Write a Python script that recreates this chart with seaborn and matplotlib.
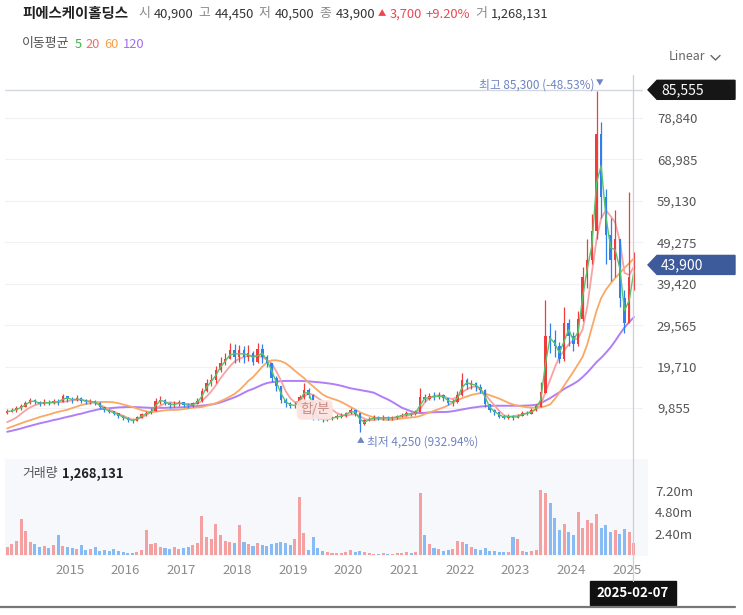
import matplotlib
matplotlib.use('Agg')
import matplotlib.pyplot as plt
import matplotlib.dates as mdates
from matplotlib.patches import Polygon, Rectangle
from matplotlib.lines import Line2D
import numpy as np
import pandas as pd
import seaborn as sns

# monthly candles, Nov 2013 .. Feb 2025
months = pd.date_range('2013-11-01', '2025-02-01', freq='MS') + pd.Timedelta(days=14)
first_open = 8600
close = [9000, 9300, 9800, 10200, 11000, 11800, 11200, 10800, 11300, 11000, 11500, 11200,
         12600, 12000, 11700, 12200, 11600, 11300, 11500, 11000, 10000, 9300, 9000, 8500,
         8000, 7500, 7000, 6800, 7600, 8300, 8600, 9200, 11500, 11800, 11000, 10500,
         10800, 11200, 10600, 10300, 10900, 11500, 13800, 15800, 16500, 18800, 20500, 21500,
         23500, 22000, 23500, 22000, 23000, 20800, 23800, 22000, 20500, 17000, 15000, 11800,
         11000, 10300, 10600, 12500, 14200, 13000, 7500, 7300, 7000, 7200, 7600, 7800,
         8000, 8600, 9300, 8500, 6000, 6900, 7300, 7600, 7400, 7700, 7400, 7600,
         7900, 8200, 8600, 8400, 8800, 12300, 12000, 12700, 12400, 12900, 12200, 11000,
         11400, 13000, 16500, 15300, 15800, 14800, 14200, 10800, 9300, 8800, 7800, 7600,
         8000, 7500, 8000, 8700, 8500, 9300, 10200, 13500, 27000, 26000, 24500, 21500,
         30000, 27000, 25000, 31000, 41000, 45000, 52000, 75000, 60000, 51000, 45000, 50000,
         36000, 30000, 41000, 43900]
high = [9700, 9800, 10300, 10800, 11600, 12300, 12000, 11600, 11900, 11700, 12100, 12000,
        13200, 12800, 12400, 12900, 12400, 11900, 12000, 11800, 11200, 10200, 9600, 9200,
        8700, 8200, 7700, 7300, 8000, 8700, 9200, 9800, 12300, 12600, 12000, 11300,
        11600, 11800, 11400, 11000, 11400, 12200, 14600, 16800, 18000, 19800, 22000, 23000,
        25300, 25000, 24800, 24500, 24800, 23500, 25300, 25000, 22500, 20500, 17500, 15000,
        12200, 11300, 11200, 13000, 15800, 14600, 13200, 7800, 7600, 7700, 8000, 8400,
        8600, 9000, 9900, 9500, 8600, 7300, 7800, 8200, 8000, 8200, 8000, 8000,
        8300, 8600, 9200, 9000, 9300, 14600, 13200, 13400, 13600, 13700, 13200, 12300,
        12000, 14000, 18200, 17000, 16500, 16000, 15500, 14300, 10800, 9600, 8900, 8200,
        8500, 8200, 8400, 9200, 9200, 9900, 10800, 16000, 35500, 30000, 28500, 25500,
        33800, 31000, 28000, 33000, 43500, 50000, 56000, 85300, 78000, 62000, 55000, 57000,
        50000, 38000, 61200, 47000]
low = [8500, 8800, 9000, 9500, 10000, 10800, 10700, 10300, 10600, 10500, 10800, 10600,
       11200, 11300, 11100, 11500, 11100, 10800, 10900, 10600, 9700, 8800, 8600, 8100,
       7600, 7100, 6600, 6300, 6700, 7500, 8000, 8400, 9200, 10900, 10500, 9900,
       10000, 10300, 10100, 9800, 10100, 10700, 11400, 13600, 15200, 15800, 18500, 20000,
       21500, 20500, 20800, 20500, 21000, 20000, 20500, 20500, 19500, 16000, 14000, 11000,
       10200, 9800, 9900, 10400, 12100, 12200, 7000, 6900, 6600, 6700, 7000, 7300,
       7500, 7800, 8400, 8000, 4250, 5800, 6700, 7000, 7000, 7100, 7000, 7100,
       7300, 7700, 8000, 7900, 8100, 8800, 11200, 11700, 11800, 12000, 11600, 10500,
       10400, 11000, 12800, 14500, 14300, 14000, 13400, 10200, 8800, 8200, 7400, 7200,
       7300, 7100, 7400, 7900, 8100, 8500, 9100, 10000, 13400, 23000, 22000, 20500,
       21000, 24500, 23500, 24500, 30500, 38500, 44000, 50000, 55000, 44000, 40000, 41000,
       34000, 27600, 30000, 38000]
volume_m = [0.9, 1.2, 1.6, 4.0, 2.7, 1.5, 1.2, 0.9, 1.0, 0.8, 1.1, 2.2,
            1.0, 0.9, 0.8, 0.7, 1.1, 0.6, 0.7, 0.9, 0.5, 0.6, 0.5, 0.7,
            0.4, 0.3, 0.2, 0.2, 0.3, 0.6, 2.8, 1.2, 1.4, 0.9, 0.8, 0.7,
            0.9, 0.7, 0.8, 0.9, 1.1, 1.4, 4.4, 2.0, 1.8, 3.5, 2.2, 1.6,
            1.5, 1.4, 3.4, 1.5, 1.2, 1.0, 1.3, 1.1, 1.0, 1.2, 1.4, 1.5,
            1.3, 1.1, 1.8, 6.5, 2.5, 0.6, 2.0, 0.8, 0.5, 0.3, 0.2, 0.2,
            0.2, 0.3, 0.6, 0.3, 0.5, 0.3, 0.2, 0.15, 0.15, 0.2, 0.15, 0.15,
            0.2, 0.2, 0.3, 0.2, 0.3, 7.0, 2.3, 1.2, 0.8, 0.7, 0.5, 0.6,
            0.7, 1.6, 1.5, 1.2, 0.9, 0.7, 0.6, 0.8, 0.5, 0.4, 0.3, 0.3,
            0.3, 2.0, 1.8, 0.4, 0.3, 0.4, 0.6, 7.3, 7.0, 5.8, 4.2, 2.8,
            3.5, 2.6, 2.2, 4.8, 3.0, 3.9, 3.6, 4.6, 3.0, 3.4, 2.6, 2.8,
            2.4, 2.9, 2.6, 1.3]
ma20 = [6500, 7000, 7600, 8500, 9300, 10000, 10500, 10900, 11100, 11100, 11100, 11200,
        11300, 11500, 11700, 11800, 11800, 11600, 11400, 11100, 10600, 10100, 9500, 9000,
        8500, 8000, 7500, 7100, 7200, 7600, 8200, 8900, 9600, 10400, 11000, 11200,
        11100, 11000, 10900, 10800, 10800, 11000, 11500, 12600, 13800, 15300, 17000, 18400,
        19800, 20900, 21600, 22000, 22300, 22300, 22300, 22000, 21300, 20500, 18600, 16400,
        13900, 12200, 11200, 11500, 12600, 13300, 13000, 12200, 11500, 10600, 9500, 8700,
        8200, 8000, 8300, 8400, 7900, 7300, 7000, 7000, 7200, 7400, 7500, 7500,
        7600, 7800, 8000, 8300, 8600, 9600, 11200, 12300, 12700, 12900, 12700, 12200,
        12000, 12500, 13600, 14300, 14800, 15000, 14200, 13200, 11800, 10500, 9200, 8200,
        7800, 7900, 8100, 8300, 8600, 9000, 9500, 10500, 13600, 16500, 19500, 22000,
        23500, 25000, 26000, 26500, 28500, 34000, 42000, 50000, 55000, 56900, 55500, 54000,
        49500, 42000, 41500, 43500]
ma60 = [5000, 5400, 5800, 6200, 6600, 6950, 7300, 7700, 8000, 8300, 8650, 8950,
        9200, 9450, 9850, 10200, 10550, 10800, 11000, 11200, 11300, 11300, 11300, 11200,
        11000, 10700, 10400, 10100, 9750, 9350, 9050, 8900, 9000, 9150, 9300, 9400,
        9400, 9450, 9600, 9750, 9900, 10000, 10100, 10400, 10700, 11000, 11500, 12000,
        12600, 13200, 14100, 15200, 16300, 17200, 18400, 19700, 20700, 21200, 21200, 21000,
        20500, 19700, 18700, 17800, 17000, 15900, 15000, 14000, 13100, 12500, 12100, 11750,
        11300, 10700, 10100, 9500, 8900, 8400, 8000, 7650, 7300, 7100, 7000, 7050,
        7200, 7350, 7500, 7600, 7700, 7950, 8400, 8800, 9200, 9600, 10000, 10500,
        11100, 11700, 12200, 12600, 12950, 13200, 13400, 13300, 12900, 12500, 12100, 11600,
        11100, 10700, 10400, 10200, 10050, 9950, 9950, 10000, 10300, 10700, 12000, 13500,
        15200, 16800, 18500, 20300, 22000, 25000, 29000, 33000, 36000, 38000, 39500, 40800,
        42000, 43200, 44300, 45500]
ma120 = [4200, 4450, 4700, 5000, 5300, 5600, 5900, 6200, 6450, 6700, 7000, 7200,
         7500, 7750, 8000, 8300, 8500, 8800, 9100, 9350, 9600, 9700, 9800, 9900,
         10000, 10050, 10100, 10100, 10050, 10000, 9950, 9900, 9900, 9900, 9900, 9950,
         9950, 10000, 10050, 10100, 10200, 10300, 10400, 10550, 10700, 10900, 11200, 11600,
         12000, 12400, 12900, 13500, 14000, 14400, 14900, 15400, 15800, 16000, 16150, 16250,
         16300, 16300, 16300, 16300, 16250, 16200, 16100, 16000, 15900, 15750, 15600, 15400,
         15150, 14850, 14550, 14350, 14150, 13950, 13750, 13500, 12950, 12400, 11900, 11300,
         10600, 9950, 9500, 9100, 8750, 8650, 8700, 8800, 8850, 8900, 8900, 8950,
         9100, 9300, 9500, 9700, 9900, 10050, 10200, 10300, 10350, 10400, 10400, 10400,
         10400, 10400, 10400, 10400, 10450, 10500, 10600, 11000, 11600, 12200, 12900, 13600,
         14400, 15000, 15600, 16300, 17200, 18300, 19500, 20800, 21800, 23000, 24300, 25800,
         27500, 29000, 30300, 31500]
price_ticks = [9855, 19710, 29565, 39420, 49275, 59130, 68985, 78840]
top_label = 85555
last_close = 43900
vol_ticks = [2.4, 4.8, 7.2]
vol_tick_labels = ['2.40m', '4.80m', '7.20m']
years = list(range(2015, 2026))
split_date = pd.Timestamp('2019-05-25')
cursor_date = pd.Timestamp('2025-02-07')

sns.set_theme(style='white')
plt.rcParams['font.family'] = ['Noto Sans CJK KR', 'DejaVu Sans']

W, H = 743, 615
fig = plt.figure(figsize=(W / 100, H / 100), dpi=100)
fig.patch.set_facecolor('white')


def fx(px):
    return px / W


def fy(py):
    return 1 - py / H


ax = fig.add_axes([fx(5), fy(455), fx(638), 380 / H])
axv = fig.add_axes([fx(5), fy(556), fx(643), 97 / H])

xs = mdates.date2num(months)
base = mdates.date2num(pd.Timestamp('2015-01-01'))
px_per_day = 55.7 / 365.25
x0 = base + (5 - 70) / px_per_day
x1 = base + (643 - 70) / px_per_day
x1v = base + (648 - 70) / px_per_day

c = np.array(close, float)
o = np.r_[first_open, c[:-1]]
h = np.array(high, float)
l = np.array(low, float)
up = c >= o
red, blue = '#f23c3c', '#2f7fec'
cols = np.where(up, red, blue)

# grid
for t in price_ticks:
    ax.axhline(t, color='#f0f1f4', lw=0.8, zorder=0)
ax.axhline(top_label, color='#d4d8e0', lw=1.0, zorder=0)

# moving averages
sns.lineplot(x=xs, y=ma120, ax=ax, color='#b07ef6', lw=1.4, zorder=2)
sns.lineplot(x=xs, y=ma60, ax=ax, color='#f9a866', lw=1.3, zorder=2)
sns.lineplot(x=xs, y=ma20, ax=ax, color='#f6a3a3', lw=1.3, zorder=2)

# candles
ax.vlines(xs, l, h, colors=cols, lw=0.9, zorder=3)
ax.bar(xs, np.abs(c - o) + 60, bottom=np.minimum(o, c), width=16, color=cols, zorder=3, linewidth=0)
ma5 = pd.Series(c).rolling(2, min_periods=1).mean().values
sns.lineplot(x=xs, y=ma5, ax=ax, color='#55c46a', lw=1.0, zorder=4)

ax.set_xlim(x0, x1)
ax.set_ylim((449.45 - 455) * 237.9, (449.45 - 75) * 237.9)
ax.set_xticks([])
ax.yaxis.tick_right()
ax.set_yticks(price_ticks)
ax.set_yticklabels([f'{t:,}' for t in price_ticks])
ax.tick_params(axis='y', length=0, pad=10, labelsize=9.5, labelcolor='#555555')
for s in ax.spines.values():
    s.set_visible(False)
ax.set_facecolor('none')

# annotations on the price panel
i_hi = int(np.argmax(h))
i_lo = int(np.argmin(l))
hl_color = '#6f84c2'
ax.annotate(f'최고 {int(h[i_hi]):,} (-48.53%)', xy=(xs[i_hi], h[i_hi]), xytext=(-2, 6),
            textcoords='offset pixels', ha='right', va='center', fontsize=8.5, color=hl_color)
ax.annotate('▼', xy=(xs[i_hi], h[i_hi]), xytext=(3, 7), textcoords='offset pixels',
            ha='center', va='center', fontsize=5.5, color=hl_color)
ax.annotate('▲', xy=(xs[i_lo], l[i_lo]), xytext=(1, -10), textcoords='offset pixels',
            ha='center', va='center', fontsize=5.5, color=hl_color)
ax.annotate(f'최저 {int(l[i_lo]):,} (932.94%)', xy=(xs[i_lo], l[i_lo]), xytext=(7, -10),
            textcoords='offset pixels', ha='left', va='center', fontsize=8.5, color=hl_color)
ax.text(mdates.date2num(split_date), 9400, '합/분', ha='center', va='center', fontsize=9.5,
        color='#c48a84', zorder=6,
        bbox=dict(boxstyle='round,pad=0.25,rounding_size=0.4', fc='#fbe3e0', ec='none', alpha=0.95))

# volume
axv.set_facecolor('#f7f8fb')
vcols = np.where(up, '#f49191', '#75b0f2')
axv.bar(xs, volume_m, width=20, color=vcols, alpha=0.85, linewidth=0)
axv.set_xlim(x0, x1v)
axv.set_ylim(-0.11, 10.8)
axv.yaxis.tick_right()
axv.set_yticks(vol_ticks)
axv.set_yticklabels(vol_tick_labels)
axv.tick_params(axis='y', length=0, pad=5, labelsize=9.5, labelcolor='#555555')
axv.set_xticks([mdates.date2num(pd.Timestamp(f'{y}-01-01')) for y in years])
axv.set_xticklabels([str(y) for y in years])
axv.tick_params(axis='x', length=0, pad=6, labelsize=9.5, labelcolor='#8c8c8c')
for s in axv.spines.values():
    s.set_visible(False)
axv.grid(False)

fig.canvas.draw()
renderer = fig.canvas.get_renderer()

# cursor line and date box
xc = mdates.date2num(cursor_date)
xc_px = ax.transData.transform((xc, 0))[0]
fig.add_artist(Line2D([xc_px / W, xc_px / W], [fy(75), fy(581)], color='#c9cfe2', lw=0.9))
fig.add_artist(Rectangle((fx(xc_px - 43), fy(605)), fx(86), 24 / H, color='#111111'))
fig.text(fx(xc_px), fy(593), cursor_date.strftime('%Y-%m-%d'), color='white', fontsize=9.5,
         fontweight='bold', ha='center', va='center')
fig.add_artist(Line2D([0, fx(735)], [fy(606.5), fy(606.5)], color='#777777', lw=1.6))


def price_tag(value, color):
    yd = ax.transData.transform((0, value))[1]
    ypx = H - yd
    pts = [(648, ypx), (657, ypx - 9.5), (735, ypx - 9.5), (735, ypx + 9.5), (657, ypx + 9.5)]
    fig.add_artist(Polygon([(fx(a), fy(b)) for a, b in pts], closed=True, color=color))
    fig.text(fx(661), fy(ypx), f'{value:,}', color='white', fontsize=10, ha='left', va='center')


price_tag(top_label, '#161616')
price_tag(last_close, '#3d5a9a')


def chain(x, y, parts, size=9.3):
    for s, color, weight, gap, *sz in parts:
        t = fig.text(fx(x), fy(y), s, color=color, fontsize=sz[0] if sz else size,
                     fontweight=weight, ha='left', va='center')
        x += t.get_window_extent(renderer).width + gap
    return x


chain(22, 14, [('피에스케이홀딩스', '#222222', 'bold', 10, 10.4),
               ('시', '#8a8a8a', 'normal', 4), ('40,900', '#333333', 'medium', 5),
               ('고', '#8a8a8a', 'normal', 4), ('44,450', '#333333', 'medium', 5),
               ('저', '#8a8a8a', 'normal', 4), ('40,500', '#333333', 'medium', 5),
               ('종', '#8a8a8a', 'normal', 4), ('43,900', '#333333', 'medium', 3),
               ('▲', '#f04452', 'normal', 3, 6), ('3,700', '#f04452', 'medium', 4),
               ('+9.20%', '#f04452', 'medium', 5), ('거', '#8a8a8a', 'normal', 4),
               ('1,268,131', '#333333', 'medium', 0)])
chain(22, 44, [('이동평균', '#555555', 'normal', 5), ('5', '#3cb44b', 'normal', 4),
               ('20', '#f26d6d', 'normal', 4), ('60', '#f5a04a', 'normal', 4),
               ('120', '#a56cf0', 'normal', 0)])
chain(22, 474, [('거래량', '#555555', 'normal', 4), ('1,268,131', '#222222', 'bold', 0)])

fig.text(fx(669), fy(57), 'Linear', color='#666666', fontsize=9, ha='left', va='center')
fig.add_artist(Line2D([fx(711), fx(715.5), fx(720)], [fy(55.5), fy(60), fy(55.5)],
                      color='#666666', lw=1.0))

fig.savefig('out.png', dpi=100)
